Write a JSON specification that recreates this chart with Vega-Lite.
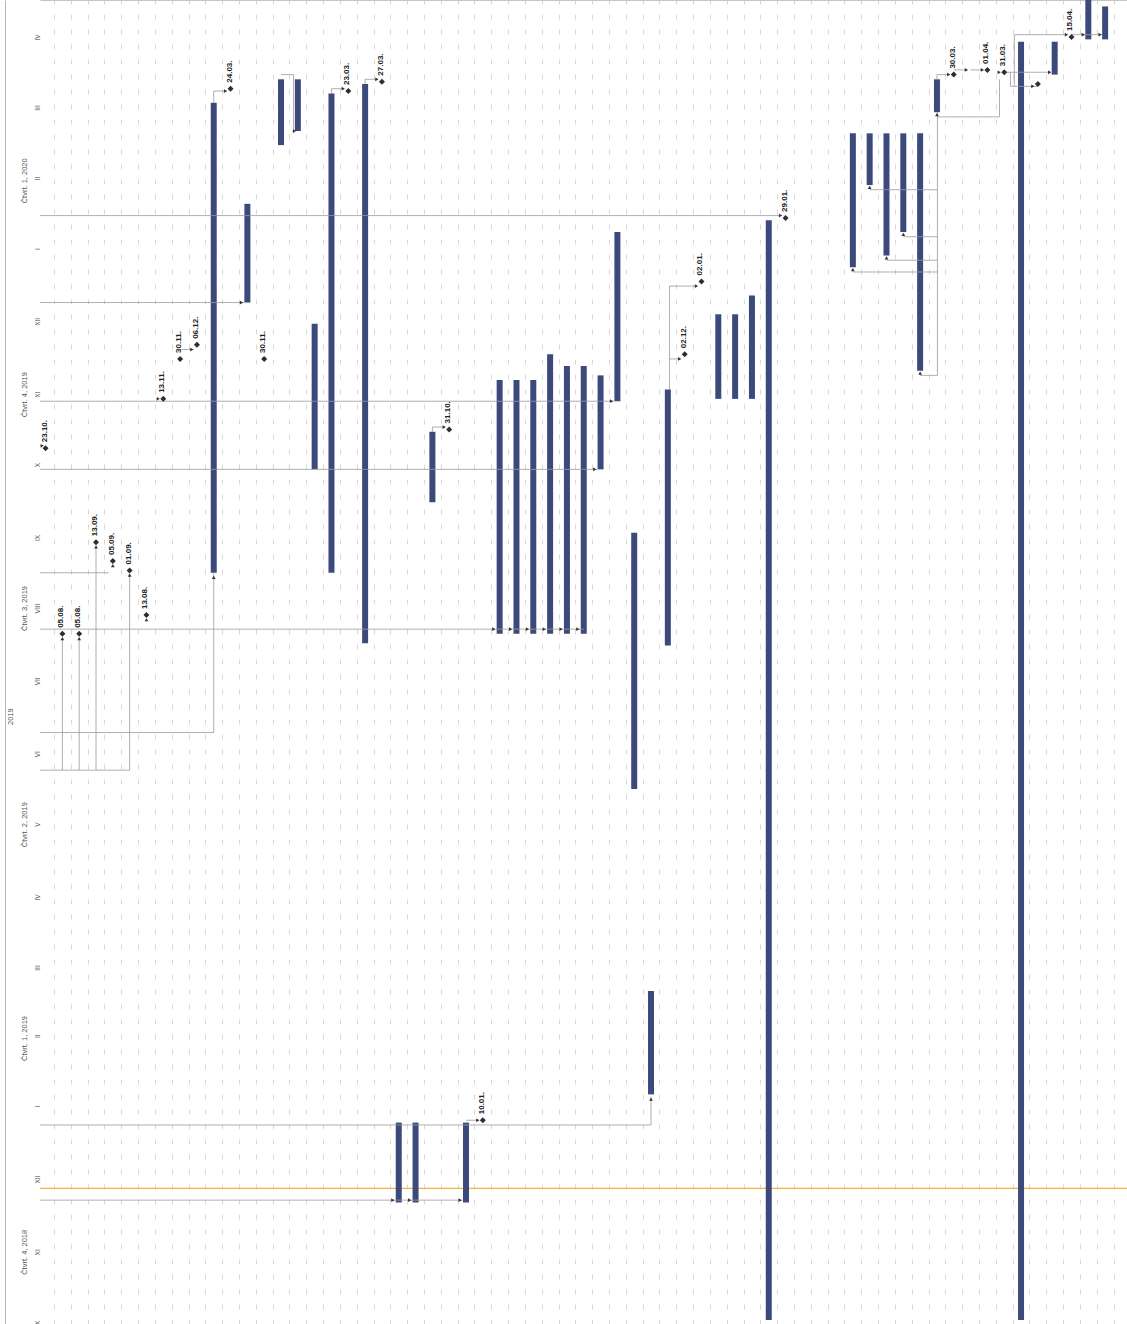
{
  "$schema": "https://vega.github.io/schema/vega-lite/v6.json",
  "width": 1087,
  "height": 1324,
  "autosize": {"type": "none"},
  "padding": {"left": 40, "top": 0, "right": 0, "bottom": 0},
  "background": "white",
  "view": {"stroke": null},
  "config": {"font": "Liberation Sans"},
  "datasets": {
    "today": [{"start": "2018-12-12"}],
    "bars": [
      {"row": 10, "start": "2019-08-31", "end": "2020-03-18"},
      {"row": 12, "start": "2019-12-24", "end": "2020-02-04"},
      {"row": 14, "start": "2020-02-29", "end": "2020-03-28"},
      {"row": 15, "start": "2020-03-06", "end": "2020-03-28"},
      {"row": 16, "start": "2019-10-14", "end": "2019-12-15"},
      {"row": 17, "start": "2019-08-31", "end": "2020-03-22"},
      {"row": 19, "start": "2019-08-01", "end": "2020-03-26"},
      {"row": 21, "start": "2018-12-06", "end": "2019-01-09"},
      {"row": 22, "start": "2018-12-06", "end": "2019-01-09"},
      {"row": 23, "start": "2019-09-30", "end": "2019-10-30"},
      {"row": 25, "start": "2018-12-06", "end": "2019-01-09"},
      {"row": 27, "start": "2019-08-05", "end": "2019-11-21"},
      {"row": 28, "start": "2019-08-05", "end": "2019-11-21"},
      {"row": 29, "start": "2019-08-05", "end": "2019-11-21"},
      {"row": 30, "start": "2019-08-05", "end": "2019-12-02"},
      {"row": 31, "start": "2019-08-05", "end": "2019-11-27"},
      {"row": 32, "start": "2019-08-05", "end": "2019-11-27"},
      {"row": 33, "start": "2019-10-14", "end": "2019-11-23"},
      {"row": 34, "start": "2019-11-12", "end": "2020-01-23"},
      {"row": 35, "start": "2019-05-31", "end": "2019-09-17"},
      {"row": 36, "start": "2019-01-21", "end": "2019-03-06"},
      {"row": 37, "start": "2019-07-31", "end": "2019-11-17"},
      {"row": 40, "start": "2019-11-13", "end": "2019-12-19"},
      {"row": 41, "start": "2019-11-13", "end": "2019-12-19"},
      {"row": 42, "start": "2019-11-13", "end": "2019-12-27"},
      {"row": 43, "start": "2018-10-17", "end": "2020-01-28"},
      {"row": 48, "start": "2020-01-08", "end": "2020-03-05"},
      {"row": 49, "start": "2020-02-12", "end": "2020-03-05"},
      {"row": 50, "start": "2020-01-13", "end": "2020-03-05"},
      {"row": 51, "start": "2020-01-23", "end": "2020-03-05"},
      {"row": 52, "start": "2019-11-25", "end": "2020-03-05"},
      {"row": 53, "start": "2020-03-14", "end": "2020-03-28"},
      {"row": 58, "start": "2018-10-17", "end": "2020-04-13"},
      {"row": 60, "start": "2020-03-30", "end": "2020-04-13"},
      {"row": 62, "start": "2020-04-14", "end": "2020-05-20"},
      {"row": 63, "start": "2020-04-14", "end": "2020-04-28"}
    ],
    "milestones": [
      {"row": 0, "start": "2019-10-23", "label": "23.10."},
      {"row": 1, "start": "2019-08-05", "label": "05.08."},
      {"row": 2, "start": "2019-08-05", "label": "05.08."},
      {"row": 3, "start": "2019-09-13", "label": "13.09."},
      {"row": 4, "start": "2019-09-05", "label": "05.09."},
      {"row": 5, "start": "2019-09-01", "label": "01.09."},
      {"row": 6, "start": "2019-08-13", "label": "13.08."},
      {"row": 7, "start": "2019-11-13", "label": "13.11."},
      {"row": 8, "start": "2019-11-30", "label": "30.11."},
      {"row": 9, "start": "2019-12-06", "label": "06.12."},
      {"row": 11, "start": "2020-03-24", "label": "24.03."},
      {"row": 13, "start": "2019-11-30", "label": "30.11."},
      {"row": 18, "start": "2020-03-23", "label": "23.03."},
      {"row": 20, "start": "2020-03-27", "label": "27.03."},
      {"row": 24, "start": "2019-10-31", "label": "31.10."},
      {"row": 26, "start": "2019-01-10", "label": "10.01."},
      {"row": 38, "start": "2019-12-02", "label": "02.12."},
      {"row": 39, "start": "2020-01-02", "label": "02.01."},
      {"row": 44, "start": "2020-01-29", "label": "29.01."},
      {"row": 54, "start": "2020-03-30", "label": "30.03."},
      {"row": 56, "start": "2020-04-01", "label": "01.04."},
      {"row": 57, "start": "2020-03-31", "label": "31.03."},
      {"row": 59, "start": "2020-03-26", "label": ""},
      {"row": 61, "start": "2020-04-15", "label": "15.04."}
    ],
    "links": [
      {"row": -0.33, "row2": 36, "start": "2019-01-08", "end": "2019-01-08"},
      {"row": 36, "row2": 36, "start": "2019-01-08", "end": "2019-01-20"},
      {"row": -0.33, "row2": 24.8, "start": "2018-12-07", "end": "2018-12-07"},
      {"row": 25, "row2": 25.75, "start": "2019-01-10", "end": "2019-01-10"},
      {"row": -0.33, "row2": 5, "start": "2019-06-08", "end": "2019-06-08"},
      {"row": 1, "row2": 1, "start": "2019-06-08", "end": "2019-08-03"},
      {"row": 2, "row2": 2, "start": "2019-06-08", "end": "2019-08-03"},
      {"row": 3, "row2": 3, "start": "2019-06-08", "end": "2019-09-11"},
      {"row": 5, "row2": 5, "start": "2019-06-08", "end": "2019-08-30"},
      {"row": -0.33, "row2": 10, "start": "2019-06-24", "end": "2019-06-24"},
      {"row": 10, "row2": 10, "start": "2019-06-24", "end": "2019-08-31"},
      {"row": -0.33, "row2": 3.75, "start": "2019-08-31", "end": "2019-08-31"},
      {"row": -0.33, "row2": 32, "start": "2019-08-07", "end": "2019-08-07"},
      {"row": -0.33, "row2": 32.8, "start": "2019-10-14", "end": "2019-10-14"},
      {"row": -0.33, "row2": 33.8, "start": "2019-11-12", "end": "2019-11-12"},
      {"row": -0.33, "row2": 11.8, "start": "2019-12-24", "end": "2019-12-24"},
      {"row": -0.33, "row2": 43.8, "start": "2020-01-30", "end": "2020-01-30"},
      {"row": 10, "row2": 10, "start": "2020-03-18", "end": "2020-03-23"},
      {"row": 10, "row2": 10.75, "start": "2020-03-23", "end": "2020-03-23"},
      {"row": 17, "row2": 17, "start": "2020-03-22", "end": "2020-03-24"},
      {"row": 17, "row2": 17.75, "start": "2020-03-24", "end": "2020-03-24"},
      {"row": 19, "row2": 19, "start": "2020-03-26", "end": "2020-03-28"},
      {"row": 19, "row2": 19.75, "start": "2020-03-28", "end": "2020-03-28"},
      {"row": 14, "row2": 14.74, "start": "2020-03-30", "end": "2020-03-30"},
      {"row": 14.74, "row2": 14.74, "start": "2020-03-05", "end": "2020-03-30"},
      {"row": 8.1, "row2": 8.8, "start": "2019-12-04", "end": "2019-12-04"},
      {"row": 23, "row2": 23, "start": "2019-10-30", "end": "2019-11-01"},
      {"row": 23, "row2": 23.75, "start": "2019-11-01", "end": "2019-11-01"},
      {"row": 37.1, "row2": 37.1, "start": "2019-11-17", "end": "2019-12-31"},
      {"row": 37.1, "row2": 37.75, "start": "2019-11-30", "end": "2019-11-30"},
      {"row": 37.1, "row2": 38.75, "start": "2019-12-31", "end": "2019-12-31"},
      {"row": 49, "row2": 53.03, "start": "2020-02-10", "end": "2020-02-10"},
      {"row": 51, "row2": 53.03, "start": "2020-01-21", "end": "2020-01-21"},
      {"row": 50, "row2": 53.03, "start": "2020-01-11", "end": "2020-01-11"},
      {"row": 48, "row2": 53.03, "start": "2020-01-06", "end": "2020-01-06"},
      {"row": 52, "row2": 53.03, "start": "2019-11-23", "end": "2019-11-23"},
      {"row": 53.03, "row2": 53.03, "start": "2019-11-23", "end": "2020-03-14"},
      {"row": 53.03, "row2": 56.72, "start": "2020-03-12", "end": "2020-03-12"},
      {"row": 56.72, "row2": 56.72, "start": "2020-03-12", "end": "2020-03-28"},
      {"row": 53, "row2": 53, "start": "2020-03-28", "end": "2020-03-30"},
      {"row": 53, "row2": 53.75, "start": "2020-03-30", "end": "2020-03-30"},
      {"row": 54, "row2": 54.8, "start": "2020-04-01", "end": "2020-04-01"},
      {"row": 55, "row2": 55.75, "start": "2020-04-01", "end": "2020-04-01"},
      {"row": 57, "row2": 59.75, "start": "2020-03-31", "end": "2020-03-31"},
      {"row": 57.37, "row2": 57.37, "start": "2020-03-25", "end": "2020-03-31"},
      {"row": 57.37, "row2": 59, "start": "2020-03-25", "end": "2020-03-25"},
      {"row": 57.6, "row2": 57.6, "start": "2020-03-25", "end": "2020-04-16"},
      {"row": 57.6, "row2": 60.75, "start": "2020-04-16", "end": "2020-04-16"},
      {"row": 61, "row2": 62.8, "start": "2020-04-16", "end": "2020-04-16"}
    ],
    "arrows": [
      {"row": 20.65, "start": "2018-12-07", "shape": "triangle-right"},
      {"row": 21.65, "start": "2018-12-07", "shape": "triangle-right"},
      {"row": 24.65, "start": "2018-12-07", "shape": "triangle-right"},
      {"row": 26.65, "start": "2019-08-07", "shape": "triangle-right"},
      {"row": 27.65, "start": "2019-08-07", "shape": "triangle-right"},
      {"row": 28.65, "start": "2019-08-07", "shape": "triangle-right"},
      {"row": 29.65, "start": "2019-08-07", "shape": "triangle-right"},
      {"row": 30.65, "start": "2019-08-07", "shape": "triangle-right"},
      {"row": 31.65, "start": "2019-08-07", "shape": "triangle-right"},
      {"row": 32.65, "start": "2019-10-14", "shape": "triangle-right"},
      {"row": 33.65, "start": "2019-11-12", "shape": "triangle-right"},
      {"row": 11.65, "start": "2019-12-24", "shape": "triangle-right"},
      {"row": 14.8, "start": "2020-03-06", "shape": "triangle-right"},
      {"row": 36, "start": "2019-01-19", "shape": "triangle-up"},
      {"row": 10, "start": "2019-08-29", "shape": "triangle-up"},
      {"row": -0.2, "start": "2019-10-24", "shape": "triangle-right"},
      {"row": 1, "start": "2019-08-03", "shape": "triangle-up"},
      {"row": 2, "start": "2019-08-03", "shape": "triangle-up"},
      {"row": 3, "start": "2019-09-11", "shape": "triangle-up"},
      {"row": 4, "start": "2019-09-03", "shape": "triangle-up"},
      {"row": 5, "start": "2019-08-30", "shape": "triangle-up"},
      {"row": 6, "start": "2019-08-11", "shape": "triangle-up"},
      {"row": 6.7, "start": "2019-11-13", "shape": "triangle-right"},
      {"row": 8.7, "start": "2019-12-04", "shape": "triangle-right"},
      {"row": 10.7, "start": "2020-03-23", "shape": "triangle-right"},
      {"row": 17.7, "start": "2020-03-24", "shape": "triangle-right"},
      {"row": 19.7, "start": "2020-03-28", "shape": "triangle-right"},
      {"row": 23.7, "start": "2019-11-01", "shape": "triangle-right"},
      {"row": 25.7, "start": "2019-01-10", "shape": "triangle-right"},
      {"row": 37.7, "start": "2019-11-30", "shape": "triangle-right"},
      {"row": 38.7, "start": "2019-12-31", "shape": "triangle-right"},
      {"row": 43.7, "start": "2020-01-30", "shape": "triangle-right"},
      {"row": 48, "start": "2020-01-07", "shape": "triangle-up"},
      {"row": 49, "start": "2020-02-11", "shape": "triangle-up"},
      {"row": 50, "start": "2020-01-12", "shape": "triangle-up"},
      {"row": 51, "start": "2020-01-22", "shape": "triangle-up"},
      {"row": 52, "start": "2019-11-24", "shape": "triangle-up"},
      {"row": 53, "start": "2020-03-13", "shape": "triangle-up"},
      {"row": 53.7, "start": "2020-03-30", "shape": "triangle-right"},
      {"row": 54.75, "start": "2020-04-01", "shape": "triangle-right"},
      {"row": 55.7, "start": "2020-04-01", "shape": "triangle-right"},
      {"row": 56.7, "start": "2020-03-31", "shape": "triangle-right"},
      {"row": 58.7, "start": "2020-03-25", "shape": "triangle-right"},
      {"row": 59.7, "start": "2020-03-31", "shape": "triangle-right"},
      {"row": 60.7, "start": "2020-04-16", "shape": "triangle-right"},
      {"row": 61.7, "start": "2020-04-16", "shape": "triangle-right"},
      {"row": 62.7, "start": "2020-04-16", "shape": "triangle-right"}
    ]
  },
  "resolve": {"axis": {"y": "independent"}},
  "layer": [
    {
      "data": {"name": "today"},
      "mark": {"type": "rule", "color": "#f3b43c", "strokeWidth": 1.2},
      "encoding": {
        "y": {
          "field": "start", "type": "temporal",
          "scale": {"type": "utc", "nice": false, "domain": [{"year": 2018, "month": 10, "date": 15, "hours": 7, "utc": true}, {"year": 2020, "month": 4, "date": 30, "hours": 18, "utc": true}]},
          "axis": {"orient": "left", "offset": 35, "domain": true, "domainColor": "#b5b5b5", "domainWidth": 1, "labels": false, "ticks": false, "grid": false, "title": null}
        }
      }
    },
    {
      "data": {"name": "bars"},
      "mark": {"type": "rule", "strokeWidth": 6, "color": "#3b4a7b", "clip": true},
      "encoding": {
        "x": {
          "field": "row", "type": "quantitative",
          "scale": {"domain": [-0.33, 64.3], "nice": false, "zero": false},
          "axis": {"orient": "top", "tickCount": 200, "values": [0.5, 1.5, 2.5, 3.5, 4.5, 5.5, 6.5, 7.5, 8.5, 9.5, 10.5, 11.5, 12.5, 13.5, 14.5, 15.5, 16.5, 17.5, 18.5, 19.5, 20.5, 21.5, 22.5, 23.5, 24.5, 25.5, 26.5, 27.5, 28.5, 29.5, 30.5, 31.5, 32.5, 33.5, 34.5, 35.5, 36.5, 37.5, 38.5, 39.5, 40.5, 41.5, 42.5, 43.5, 44.5, 45.5, 46.5, 47.5, 48.5, 49.5, 50.5, 51.5, 52.5, 53.5, 54.5, 55.5, 56.5, 57.5, 58.5, 59.5, 60.5, 61.5, 62.5, 63.5], "grid": true, "gridDash": [5, 10], "gridColor": "#d2d2d2", "gridWidth": 0.9, "labels": false, "ticks": false, "domain": true, "domainColor": "#c4c4c4", "title": null}
        },
        "y": {
          "field": "start", "type": "temporal",
          "scale": {"type": "utc", "nice": false, "domain": [{"year": 2018, "month": 10, "date": 15, "hours": 7, "utc": true}, {"year": 2020, "month": 4, "date": 30, "hours": 18, "utc": true}]},
          "axis": {
            "orient": "left",
            "tickCount": 100,
            "values": [
              {"year": 2018, "month": 10, "date": 16, "utc": true}, {"year": 2018, "month": 11, "date": 15, "utc": true}, {"year": 2018, "month": 12, "date": 16, "utc": true},
              {"year": 2019, "month": 1, "date": 16, "utc": true}, {"year": 2019, "month": 2, "date": 15, "utc": true}, {"year": 2019, "month": 3, "date": 16, "utc": true},
              {"year": 2019, "month": 4, "date": 15, "utc": true}, {"year": 2019, "month": 5, "date": 16, "utc": true}, {"year": 2019, "month": 6, "date": 15, "utc": true},
              {"year": 2019, "month": 7, "date": 16, "utc": true}, {"year": 2019, "month": 8, "date": 16, "utc": true}, {"year": 2019, "month": 9, "date": 15, "utc": true},
              {"year": 2019, "month": 10, "date": 16, "utc": true}, {"year": 2019, "month": 11, "date": 15, "utc": true}, {"year": 2019, "month": 12, "date": 16, "utc": true},
              {"year": 2020, "month": 1, "date": 16, "utc": true}, {"year": 2020, "month": 2, "date": 15, "utc": true}, {"year": 2020, "month": 3, "date": 16, "utc": true},
              {"year": 2020, "month": 4, "date": 15, "utc": true}
            ],
            "labelExpr": "['I','II','III','IV','V','VI','VII','VIII','IX','X','XI','XII'][utcmonth(datum.value)]",
            "labelAngle": 270, "labelAlign": "center", "labelBaseline": "middle", "labelPadding": 3, "tickSize": 0, "ticks": false, "domain": false, "grid": false, "title": null,
            "labelFontSize": 6.5, "labelColor": "#555", "labelOverlap": false, "labelBound": false, "labelFlush": false
          }
        },
        "y2": {"field": "end"}
      }
    },
    {
      "data": {"name": "links"},
      "mark": {"type": "rule", "color": "#9a9a9a", "strokeWidth": 0.8, "clip": true},
      "encoding": {
        "x": {"field": "row", "type": "quantitative", "scale": {"domain": [-0.33, 64.3], "nice": false, "zero": false}},
        "x2": {"field": "row2"},
        "y": {
          "field": "start", "type": "temporal",
          "scale": {"type": "utc", "nice": false, "domain": [{"year": 2018, "month": 10, "date": 15, "hours": 7, "utc": true}, {"year": 2020, "month": 4, "date": 30, "hours": 18, "utc": true}]},
          "axis": {"orient": "left", "values": [{"year": 2019, "month": 7, "date": 1, "utc": true}], "labelExpr": "'' + utcyear(datum.value)", "labelAngle": 270, "labelAlign": "center", "labelBaseline": "middle", "labelPadding": 30, "tickSize": 0, "ticks": false, "domain": false, "grid": false, "title": null, "labelFontSize": 7.5, "labelColor": "#555", "labelOverlap": false, "labelBound": false, "labelFlush": false}
        },
        "y2": {"field": "end"}
      }
    },
    {
      "data": {"name": "arrows"},
      "mark": {"type": "point", "filled": true, "size": 14, "color": "#333333", "opacity": 1},
      "encoding": {
        "x": {"field": "row", "type": "quantitative", "scale": {"domain": [-0.33, 64.3], "nice": false, "zero": false}},
        "y": {"field": "start", "type": "temporal", "scale": {"type": "utc", "nice": false, "domain": [{"year": 2018, "month": 10, "date": 15, "hours": 7, "utc": true}, {"year": 2020, "month": 4, "date": 30, "hours": 18, "utc": true}]}, "axis": null},
        "shape": {"field": "shape", "type": "nominal", "scale": null, "legend": null}
      }
    },
    {
      "data": {"name": "milestones"},
      "mark": {"type": "point", "shape": "diamond", "filled": true, "size": 36, "color": "#2e2e2e", "opacity": 1},
      "encoding": {
        "x": {"field": "row", "type": "quantitative", "scale": {"domain": [-0.33, 64.3], "nice": false, "zero": false}},
        "y": {
          "field": "start", "type": "temporal",
          "scale": {"type": "utc", "nice": false, "domain": [{"year": 2018, "month": 10, "date": 15, "hours": 7, "utc": true}, {"year": 2020, "month": 4, "date": 30, "hours": 18, "utc": true}]},
          "axis": {
            "orient": "left",
            "values": [
              {"year": 2018, "month": 11, "date": 15, "utc": true}, {"year": 2019, "month": 2, "date": 14, "utc": true},
              {"year": 2019, "month": 5, "date": 16, "utc": true}, {"year": 2019, "month": 8, "date": 16, "utc": true},
              {"year": 2019, "month": 11, "date": 15, "utc": true}, {"year": 2020, "month": 2, "date": 14, "utc": true}
            ],
            "labelExpr": "'Čtvrt. ' + utcquarter(datum.value) + ', ' + utcyear(datum.value)",
            "labelAngle": 270, "labelAlign": "center", "labelBaseline": "middle", "labelPadding": 16, "tickSize": 0, "ticks": false, "domain": false, "grid": false, "title": null,
            "labelFontSize": 7.5, "labelColor": "#555", "labelOverlap": false, "labelBound": false, "labelFlush": false
          }
        }
      }
    },
    {
      "data": {"name": "milestones"},
      "mark": {"type": "text", "angle": 270, "align": "left", "baseline": "middle", "dx": 6, "dy": -1, "fontSize": 8, "fontWeight": "bold", "color": "#222222"},
      "encoding": {
        "x": {"field": "row", "type": "quantitative", "scale": {"domain": [-0.33, 64.3], "nice": false, "zero": false}},
        "y": {"field": "start", "type": "temporal", "scale": {"type": "utc", "nice": false, "domain": [{"year": 2018, "month": 10, "date": 15, "hours": 7, "utc": true}, {"year": 2020, "month": 4, "date": 30, "hours": 18, "utc": true}]}, "axis": null},
        "text": {"field": "label"}
      }
    }
  ]
}
